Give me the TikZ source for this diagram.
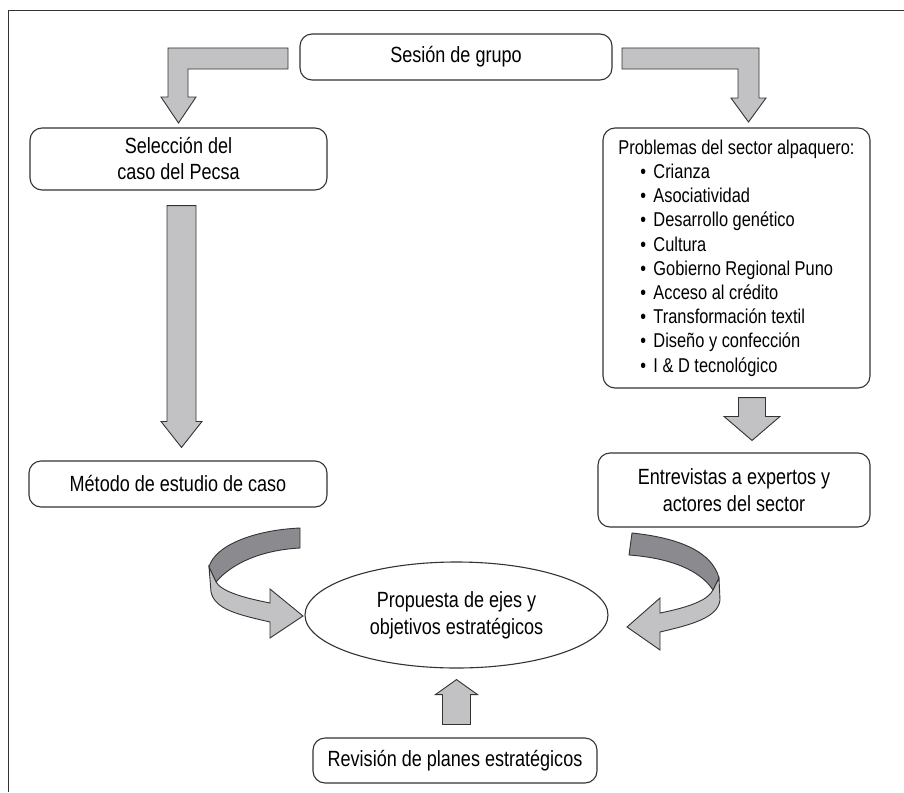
\documentclass[tikz,border=0pt]{standalone}
\usepackage{fontspec}
\setmainfont{Liberation Sans}[FakeStretch=0.82]
\usetikzlibrary{calc,shapes.geometric}
\definecolor{lightfill}{HTML}{C2C2C5}
\definecolor{darkfill}{HTML}{8B8B8F}
\definecolor{edge}{HTML}{333333}
\newcommand\vblk[5]{\draw[blk] let \p1=(#1), \p2=(#2) in
  (\x2-#3,\y1) -- (\x2+#3,\y1) -- (\x2+#3,\y2+#5) -- (\x2+#4,\y2+#5) -- (\x2,\y2)
  -- (\x2-#4,\y2+#5) -- (\x2-#3,\y2+#5) -- cycle;}
\begin{document}
\begin{tikzpicture}[x=1pt,y=-1pt,
  box/.style={draw=edge, line width=1.1pt, rounded corners=12pt, fill=white,
    font=\fontsize{22}{26}\selectfont, align=center, inner sep=0pt},
  blk/.style={draw=edge, line width=0.9pt, fill=lightfill, line join=miter},
  blkdark/.style={draw=edge, line width=0.9pt, fill=darkfill, line join=round}]
\useasboundingbox (0,0) rectangle (904,792);
\draw[line width=1.6pt, edge] (8.5,792) -- (8.5,10.5) -- (904,10.5);

\node[box, minimum width=312pt, minimum height=46pt] (ses) at (456,57) {Sesión de grupo};
\node[box, minimum width=297pt, minimum height=62pt] (sel) at (178.5,159) {Selección del\\caso del Pecsa};
\node[box, minimum width=298pt, minimum height=46pt] (met) at (178,484) {Método de estudio de caso};
\node[box, minimum width=267pt, minimum height=260pt, align=left,
  font=\fontsize{20}{24.2}\selectfont] (prob) at (736.5,258)
  {Problemas del sector alpaquero:\\
   \hspace*{22pt}\makebox[13pt][l]{•}Crianza\\
   \hspace*{22pt}\makebox[13pt][l]{•}Asociatividad\\
   \hspace*{22pt}\makebox[13pt][l]{•}Desarrollo genético\\
   \hspace*{22pt}\makebox[13pt][l]{•}Cultura\\
   \hspace*{22pt}\makebox[13pt][l]{•}Gobierno Regional Puno\\
   \hspace*{22pt}\makebox[13pt][l]{•}Acceso al crédito\\
   \hspace*{22pt}\makebox[13pt][l]{•}Transformación textil\\
   \hspace*{22pt}\makebox[13pt][l]{•}Diseño y confección\\
   \hspace*{22pt}\makebox[13pt][l]{•}I \& D tecnológico};
\node[box, minimum width=272pt, minimum height=74pt, font=\fontsize{22}{27}\selectfont] (ent) at (734,490) {Entrevistas a expertos y\\actores del sector};
\node[draw=edge, line width=1.1pt, ellipse, minimum width=303pt, minimum height=106pt,
  inner sep=0pt, align=center, font=\fontsize{22}{27}\selectfont] (ell) at (456.5,615)
  {Propuesta de ejes y\\objetivos estratégicos};
\node[box, minimum width=284pt, minimum height=45pt] (rev) at (455,760.5) {Revisión de planes estratégicos};

% bent arrows from the top box
\draw[blk] (288,48) -- (168,48) -- (168,97) -- (161,97) -- (178.5,123) -- (196,97)
  -- (188,97) -- (188,69) -- (288,69) -- cycle;
\draw[blk] (622,48) -- (759,48) -- (759,98) -- (766,98) -- (748.5,122) -- (731,98)
  -- (738,98) -- (738,69) -- (622,69) -- cycle;

% straight arrows
\coordinate (a1s) at ($(sel.south)+(3.5,15)$);
\coordinate (a1t) at ($(met.north)+(3.5,-13)$);
\vblk{a1s}{a1t}{14.5pt}{20.5pt}{26pt}
\coordinate (a2s) at ($(prob.south)+(15.5,9)$);
\coordinate (a2t) at ($(ent.north)+(18,-12)$);
\vblk{a2s}{a2t}{13.5pt}{28pt}{24pt}
\coordinate (a3s) at ($(rev.north)+(0,-13)$);
\coordinate (a3t) at ($(ell.south)+(0,11)$);
\vblk{a3s}{a3t}{14pt}{21pt}{-15pt}

% left curved arrow
\draw[blkdark] (300,528) .. controls (255,530) and (215,545) .. (209,567)
  -- (216,582) .. controls (232,563) and (262,550) .. (300,548) -- cycle;
\draw[blk] (209,567) -- (211,592) .. controls (215,610) and (240,615) .. (270,622)
  -- (270,638) -- (303,616) -- (270,589) -- (270,603)
  .. controls (245,598) and (222,592) .. (216,582) -- cycle;

% right curved arrow
\draw[blkdark] (632,533) .. controls (680,538) and (712,552) .. (719,578)
  -- (713,590) .. controls (700,570) and (670,558) .. (629,555) -- cycle;
\draw[blk] (719,578) -- (720,600) .. controls (718,618) and (690,625) .. (660,632)
  -- (660,650) -- (627,627) -- (660,598) -- (660,613)
  .. controls (690,607) and (708,600) .. (713,590) -- cycle;
\end{tikzpicture}
\end{document}
